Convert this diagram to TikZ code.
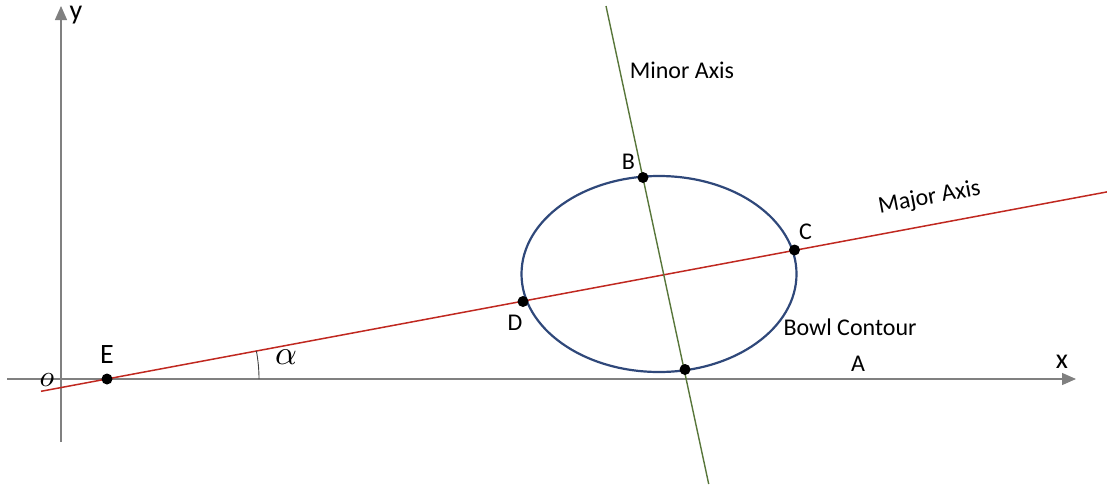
\documentclass[tikz,border=0pt]{standalone}
\usepackage{fontspec}
\usepackage{graphicx}
\setmainfont{Carlito}
\usetikzlibrary{arrows.meta,shapes.geometric}
\definecolor{axisgray}{RGB}{128,128,128}
\definecolor{majred}{RGB}{192,40,32}
\definecolor{minorgreen}{RGB}{88,118,58}
\definecolor{bowlblue}{RGB}{47,72,122}
\tikzset{
  axisline/.style={draw=axisgray, line width=1.3pt},
  majorline/.style={draw=majred, line width=1.5pt},
  minorline/.style={draw=minorgreen, line width=1.4pt},
  bowl/.style={draw=bowlblue, line width=2.2pt},
  pt/.style={circle, fill=black, inner sep=0pt, minimum size=11pt},
  lbl/.style={font=\fontsize{24}{28}\selectfont, inner sep=0pt},
  biglbl/.style={font=\fontsize{28}{32}\selectfont, inner sep=0pt},
  tip/.style={-{Triangle[length=14pt,width=12pt]}}
}
\begin{document}
\begin{tikzpicture}[x=1pt,y=-1pt]
\useasboundingbox (0,0) rectangle (1107,485);
% axes
\coordinate (xs) at (7,379);
\coordinate (xe) at (1076,379);
\coordinate (ys) at (61,442);
\coordinate (ye) at (61,6);
\draw[axisline, tip] (xs) -- (xe);
\draw[axisline, tip] (ys) -- (ye);
% major and minor axes
\coordinate (ms) at (41,391.3);
\coordinate (me) at (1107,191.9);
\coordinate (ns) at (606,6);
\coordinate (ne) at (708.7,484);
\draw[majorline] (ms) -- (me);
\draw[minorline] (ns) -- (ne);
% bowl contour
\node[bowl, ellipse, minimum width=275pt, minimum height=196pt, inner sep=0pt] (bowlc) at (659,274) {};
% points
\node[pt] (E) at (107,379) {};
\node[pt] (B) at (643,177.5) {};
\node[pt] (C) at (794.5,250) {};
\node[pt] (D) at (523,301.5) {};
\node[pt] (F) at (685,369.5) {};
% angle arc
\draw[draw=black!75, line width=0.9pt] (259,379) arc[start angle=0, end angle=10.6, radius=152pt];
% labels
\node[biglbl] (ylab) at (76,15) {y};
\node[biglbl] (xlab) at (1062,362) {x};
\node[inner sep=0pt] (olab) at (47,380) {\scalebox{3.0}{$o$}};
\node[biglbl] (Elab) at (107,355) {E};
\node[inner sep=0pt] (alab) at (286,357) {\scalebox{3.4}{$\alpha$}};
\node[lbl] (minlab) at (682,70.5) {Minor Axis};
\node[lbl, rotate=10.6] (majlab) at (929.5,198) {Major Axis};
\node[lbl] (Blab) at (628.5,162) {B};
\node[lbl] (Clab) at (805.5,232) {C};
\node[lbl] (Dlab) at (515,323) {D};
\node[lbl] (bowllab) at (850,327) {Bowl Contour};
\node[lbl] (Alab) at (858,364) {A};
\end{tikzpicture}
\end{document}
